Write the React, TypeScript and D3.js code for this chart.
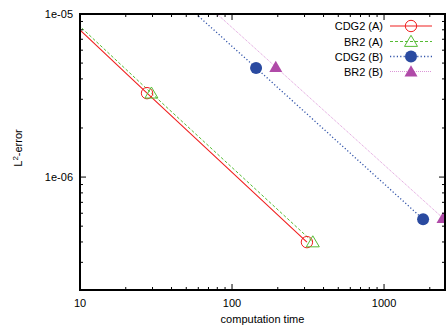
import React from "react";
import * as d3 from "d3";

const seriesNames = ["CDG2 (A)", "BR2 (A)", "CDG2 (B)", "BR2 (B)"];
const cdg2A_x = [3.5, 27.6, 311];
const cdg2A_y = [2.0e-5, 3.27e-6, 3.99e-7];
const br2A_x = [3.8, 29.5, 340];
const br2A_y = [1.95e-5, 3.27e-6, 4.0e-7];
const cdg2B_x = [17, 144, 1807];
const cdg2B_y = [2.8e-5, 4.67e-6, 5.52e-7];
const br2B_x = [23, 194, 2443];
const br2B_y = [2.85e-5, 4.73e-6, 5.6e-7];
const xTicks = [10, 100, 1000];
const yTicks = [1e-6, 1e-5];
const yTickLabels = ["1e-06", "1e-05"];

const W = 446, H = 326;
const L = 80, R = 445, T = 14, B = 290;
const FONT = "'Liberation Sans', Arial, Helvetica, sans-serif";

type Style = { color: string; lineColor: string; dash: string; width: number; marker: string };
const styles: Style[] = [
  { color: "#f02020", lineColor: "#f02020", dash: "", width: 1.1, marker: "openCircle" },
  { color: "#55bb33", lineColor: "#55bb33", dash: "3,2", width: 1, marker: "openTriangle" },
  { color: "#2a4aa0", lineColor: "#3355aa", dash: "1.2,2.2", width: 1.3, marker: "filledCircle" },
  { color: "#b04aa8", lineColor: "#d88ad4", dash: "1,1", width: 0.9, marker: "filledTriangle" },
];

function Marker({ kind, x, y, color }: { kind: string; x: number; y: number; color: string }) {
  if (kind === "openCircle") return <circle cx={x} cy={y} r={5.7} fill="none" stroke={color} strokeWidth={1} />;
  if (kind === "filledCircle") return <circle cx={x} cy={y} r={6} fill={color} />;
  const s = 6.5;
  const pts = `${x - s},${y + s * 0.75} ${x + s},${y + s * 0.75} ${x},${y - s * 0.95}`;
  if (kind === "openTriangle") return <polygon points={pts} fill="none" stroke={color} strokeWidth={1} />;
  return <polygon points={pts} fill={color} />;
}

export default function App() {
  const x = d3.scaleLog().domain([10, 2518]).range([L, R]);
  const y = d3.scaleLog().domain([2.03e-7, 1e-5]).range([B, T]);
  const data = [
    cdg2A_x.map((v, i) => [v, cdg2A_y[i]]),
    br2A_x.map((v, i) => [v, br2A_y[i]]),
    cdg2B_x.map((v, i) => [v, cdg2B_y[i]]),
    br2B_x.map((v, i) => [v, br2B_y[i]]),
  ];
  const line = d3.line<number[]>().x((d) => x(d[0])).y((d) => y(d[1]));

  const xMinor: number[] = [];
  for (const dec of [10, 100, 1000]) for (let k = 2; k <= 9; k++) if (dec * k <= 2518) xMinor.push(dec * k);
  const yMinor: number[] = [];
  for (const dec of [1e-7, 1e-6]) for (let k = 2; k <= 9; k++) if (dec * k >= 2.03e-7) yMinor.push(dec * k);

  const major = 6, minor = 3;
  const legendRows = [26, 41.5, 56.5, 71.5];

  return (
    <svg width={W} height={H} style={{ position: "absolute", left: 0, top: 0, background: "#fff" }} fontFamily={FONT}>
      <defs>
        <clipPath id="plot"><rect x={L} y={T} width={R - L} height={B - T} /></clipPath>
      </defs>
      <g clipPath="url(#plot)">
        {data.map((d, i) => (
          <path key={i} d={line(d) || ""} fill="none" stroke={styles[i].lineColor} strokeWidth={styles[i].width} strokeDasharray={styles[i].dash || undefined} />
        ))}
        {data.map((d, i) => d.map((p, j) => (
          <Marker key={`${i}-${j}`} kind={styles[i].marker} x={x(p[0])} y={y(p[1])} color={styles[i].color} />
        )))}
      </g>
      {/* ticks */}
      <g stroke="#000" strokeWidth={1}>
        {xTicks.map((t) => (
          <g key={t}>
            <line x1={x(t)} x2={x(t)} y1={B} y2={B - major} />
            <line x1={x(t)} x2={x(t)} y1={T} y2={T + major} />
          </g>
        ))}
        {xMinor.map((t) => (
          <g key={t}>
            <line x1={x(t)} x2={x(t)} y1={B} y2={B - minor} />
            <line x1={x(t)} x2={x(t)} y1={T} y2={T + minor} />
          </g>
        ))}
        {yTicks.map((t) => (
          <g key={t}>
            <line x1={L} x2={L + major} y1={y(t)} y2={y(t)} />
            <line x1={R} x2={R - major} y1={y(t)} y2={y(t)} />
          </g>
        ))}
        {yMinor.map((t) => (
          <g key={t}>
            <line x1={L} x2={L + minor} y1={y(t)} y2={y(t)} />
            <line x1={R} x2={R - minor} y1={y(t)} y2={y(t)} />
          </g>
        ))}
      </g>
      <rect x={L} y={T} width={R - L} height={B - T} fill="none" stroke="#000" strokeWidth={2} />
      {xTicks.map((t) => (
        <text key={t} x={x(t)} y={307} fontSize={11} textAnchor="middle">{t}</text>
      ))}
      {yTicks.map((t, i) => (
        <text key={t} x={73} y={y(t) + 4} fontSize={11} textAnchor="end">{yTickLabels[i]}</text>
      ))}
      <text x={(L + R) / 2} y={323} fontSize={11} textAnchor="middle">computation time</text>
      <text transform={`translate(22,${(T + B) / 2 - 4}) rotate(-90)`} fontSize={11} textAnchor="middle">
        L<tspan dy={-4} fontSize={8}>2</tspan><tspan dy={4}>-error</tspan>
      </text>
      {/* legend */}
      {seriesNames.map((n, i) => (
        <g key={n}>
          <text x={383} y={legendRows[i] + 4} fontSize={11} textAnchor="end">{n}</text>
          <line x1={390} x2={432} y1={legendRows[i]} y2={legendRows[i]} stroke={styles[i].lineColor} strokeWidth={styles[i].width} strokeDasharray={styles[i].dash || undefined} />
          <Marker kind={styles[i].marker} x={411} y={legendRows[i]} color={styles[i].color} />
        </g>
      ))}
    </svg>
  );
}
